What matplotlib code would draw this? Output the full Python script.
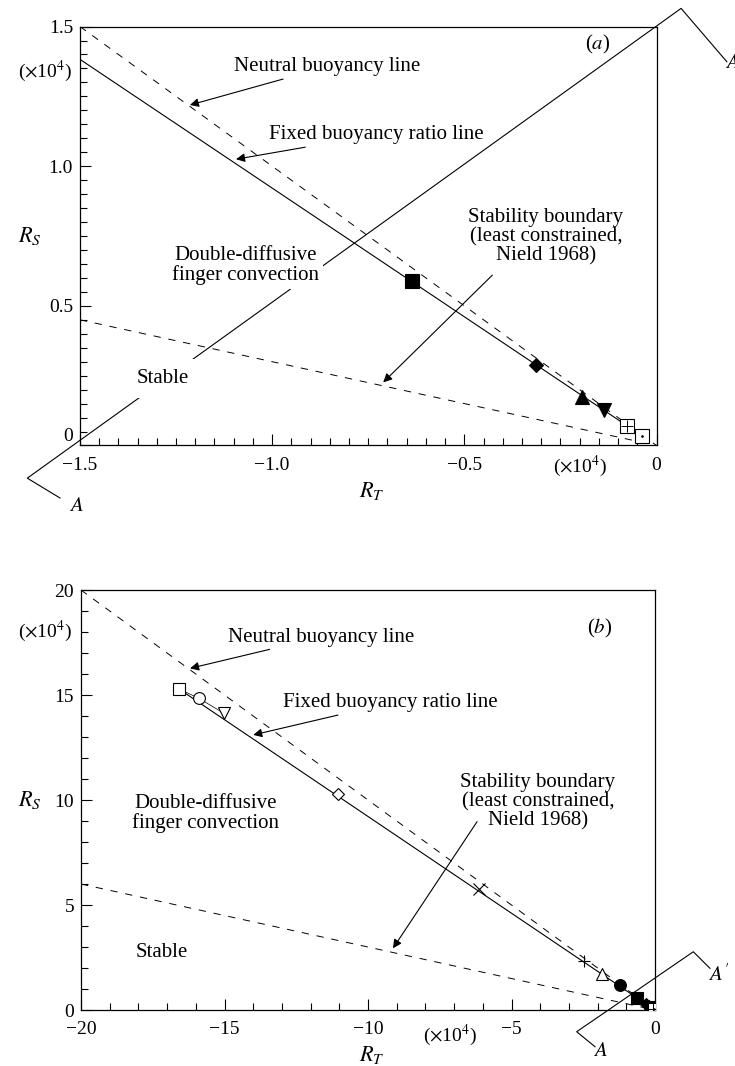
import matplotlib
matplotlib.use("Agg")
import matplotlib.pyplot as plt
from matplotlib.ticker import MultipleLocator

plt.rcParams['font.family'] = ['Liberation Serif', 'DejaVu Serif']
plt.rcParams['mathtext.fontset'] = 'stix'
plt.rcParams['font.size'] = 15

# measured points, R_T and R_S in units of 1e4
rt = [-16.60, -15.89, -15.02, -11.06, -6.13, -2.46, -1.86, -1.22,
      -0.636, -0.313, -0.195, -0.136, -0.078, -0.039]
rs = [15.30, 14.84, 14.13, 10.29, 5.75, 2.35, 1.70, 1.19,
      0.589, 0.288, 0.175, 0.127, 0.070, 0.035]
marks = ['s', 'o', 'v', 'D', 'x', '+', '^', 'o', 's', 'D', '^', 'v', 's', 's']
filled = [False, False, False, False, False, False, False, True,
          True, True, True, True, False, False]
inner = [None] * 12 + ['+', '.']
# runs shown in the close-up panel
in_a = [False] * 8 + [True] * 6

# fixed buoyancy ratio and stability boundary slope
n_fixed = rs[0] / -rt[0]
stab_slope = 0.30

def draw_panel(ax, lim, major, minor, ticklabels, ms, show):
    # neutral buoyancy line R_S = -R_T
    ax.plot([-lim, 0], [lim, 0], color='k', lw=0.7, ls=(0, (7.5, 8)))
    # stability boundary
    ax.plot([-lim, rt[-1]], [stab_slope * lim, -stab_slope * rt[-1]],
            color='k', lw=0.7, ls=(0, (7.5, 8)))
    # fixed buoyancy ratio line
    x0 = max(rt[0], -lim)
    ax.plot([x0, rt[-2]], [-n_fixed * x0, -n_fixed * rt[-2]], color='k', lw=0.8)
    pts = [k for k in range(len(rt)) if show[k]]
    if len(pts) > 6:
        ax.plot(rt[:3], rs[:3], color='k', lw=0.5)
    for k in pts:
        m, i = marks[k], inner[k]
        s = ms * 0.75 if m == 'D' else ms
        ax.plot(rt[k], rs[k], marker=m, ms=s, mec='k', mew=0.8,
                mfc='k' if filled[k] else 'white', zorder=4)
        if i is not None:
            ax.plot(rt[k], rs[k], marker=i, ms=ms * (0.95 if i == '+' else 0.25),
                    color='k', mew=0.7, zorder=5)
    ax.set_xlim(-lim, 0)
    ax.set_ylim(0, lim)
    ax.xaxis.set_minor_locator(MultipleLocator(minor))
    ax.yaxis.set_minor_locator(MultipleLocator(minor))
    ax.set_xticks([-lim + k * major for k in range(len(ticklabels))])
    ax.set_xticklabels(['\u2212' + t if t != '0' else t for t in ticklabels])
    ax.set_yticks([lim - k * major for k in range(len(ticklabels))])
    ax.set_yticklabels(ticklabels)
    ax.tick_params(which='both', direction='in', top=False, right=False,
                   width=0.8, labelsize=14)
    ax.tick_params(axis='x', pad=8)
    ax.tick_params(axis='y', pad=5)
    ax.tick_params(which='major', length=8)
    ax.tick_params(which='minor', length=5)
    for sp in ax.spines.values():
        sp.set_linewidth(0.9)

fig = plt.figure(figsize=(7.35, 10.66), dpi=100)
ax1 = fig.add_axes([0.1088, 0.5821, 0.7844, 0.3930])
ax2 = fig.add_axes([0.1102, 0.0525, 0.7810, 0.3940])

draw_panel(ax1, 1.5, 0.5, 0.05, ['1.5', '1.0', '0.5', '0'], 9.5, in_a)
draw_panel(ax2, 20, 5, 1, ['20', '15', '10', '5', '0'], 8.5, [True] * len(rt))
# lift the zero label of the close-up clear of the corner
ax1.get_yticklabels()[-1].set_verticalalignment('bottom')

arrow = dict(arrowstyle='-|>', color='k', lw=0.8, mutation_scale=13,
             shrinkA=0, shrinkB=0)
note3 = 'Stability boundary\n(least constrained,\nNield 1968)'

# panel (a) annotations
ax1.annotate('Neutral buoyancy line', xy=(-1.214, 1.219), xytext=(-1.099, 1.356),
             va='center', ha='left', arrowprops=arrow)
ax1.annotate('Fixed buoyancy ratio line', xy=(-1.094, 1.025), xytext=(-1.009, 1.112),
             va='center', ha='left', arrowprops=arrow)
ax1.annotate('', xy=(-0.711, 0.226), xytext=(-0.427, 0.610), arrowprops=arrow)
ax1.text(-0.2875, 0.7475, note3, ha='center', va='center', linespacing=1.0)
ax1.text(-1.069, 0.6455, 'Double-diffusive\nfinger convection', ha='center',
         va='center', linespacing=1.0, zorder=6,
         bbox=dict(facecolor='white', edgecolor='none', pad=3))
ax1.text(-1.2856, 0.2406, 'Stable', ha='center', va='center', zorder=6,
         bbox=dict(facecolor='white', edgecolor='none', pad=7))
ax1.text(-0.153, 1.437, '($a$)', ha='center', va='center')

# section line A-A'
ax1.plot([-1.552, -1.637, 0.064, 0.183], [-0.188, -0.117, 1.565, 1.374],
         color='k', lw=0.8, clip_on=False, zorder=3)
ax1.text(-1.51, -0.22, '$A$', ha='center', va='center')
ax1.text(0.178, 1.369, "$A'$", ha='left', va='center')

# panel (b) annotations
ax2.annotate('Neutral buoyancy line', xy=(-16.20, 16.27), xytext=(-14.88, 17.76),
             va='center', ha='left', arrowprops=arrow)
ax2.annotate('Fixed buoyancy ratio line', xy=(-14.0, 13.1), xytext=(-12.96, 14.63),
             va='center', ha='left', arrowprops=arrow)
ax2.annotate('', xy=(-9.13, 2.94), xytext=(-6.20, 8.97), arrowprops=arrow)
ax2.text(-4.077, 9.92, note3, ha='center', va='center', linespacing=1.0)
ax2.text(-15.67, 9.38, 'Double-diffusive\nfinger convection', ha='center',
         va='center', linespacing=1.0)
ax2.text(-17.18, 2.73, 'Stable', ha='center', va='center')
ax2.text(-1.93, 18.18, '($b$)', ha='center', va='center')

ax2.plot([-2.09, -2.73, 1.334, 1.913], [-1.748, -1.033, 2.776, 1.986],
         color='k', lw=0.8, clip_on=False, zorder=3)
ax2.text(-1.917, -1.986, '$A$', ha='center', va='center')
ax2.text(2.206, 1.667, "$A'$", ha='center', va='center')

# axis titles and scale notes
for yl, yt in [(0.7786, 0.9327), (0.2495, 0.4074)]:
    fig.text(0.0408, yl, '$R_S$', ha='center', va='center', fontsize=16)
    fig.text(0.0612, yt, r'($\times$10$^4$)', ha='center', va='center', fontsize=14)
fig.text(0.506, 0.5394, '$R_T$', ha='center', va='center', fontsize=16)
fig.text(0.506, 0.0103, '$R_T$', ha='center', va='center', fontsize=16)
fig.text(0.789, 0.5622, r'($\times$10$^4$)', ha='center', va='center', fontsize=14)
fig.text(0.612, 0.0291, r'($\times$10$^4$)', ha='center', va='center', fontsize=14)

fig.savefig('out.png', dpi=100)
